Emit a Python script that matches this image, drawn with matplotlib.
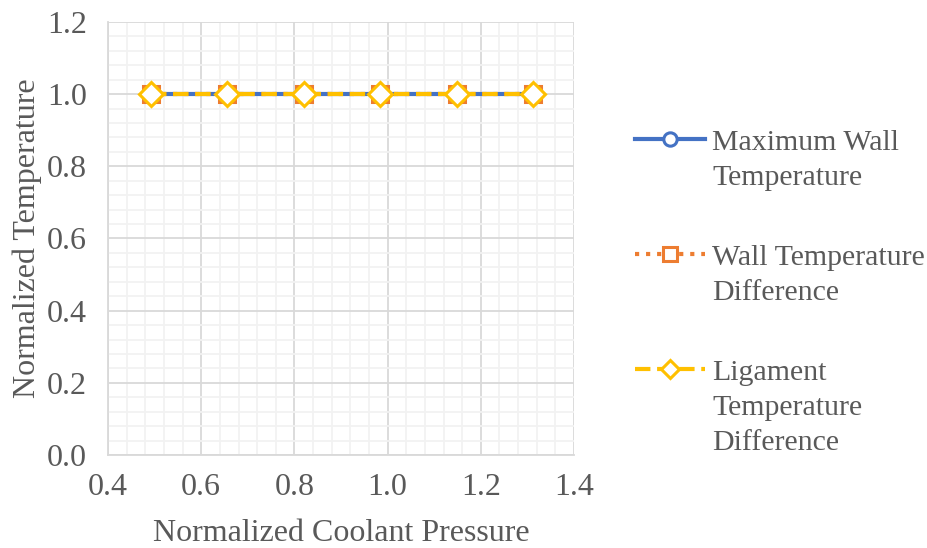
import numpy as np
import matplotlib.pyplot as plt
from matplotlib.lines import Line2D
from matplotlib.ticker import MultipleLocator

# data
pressure = [0.492, 0.656, 0.820, 0.984, 1.148, 1.312]
max_wall_temp = [1.0, 1.0, 1.0, 1.0, 1.0, 1.0]
wall_temp_diff = [1.0, 1.0, 1.0, 1.0, 1.0, 1.0]
lig_temp_diff = [1.0, 1.0, 1.0, 1.0, 1.0, 1.0]

plt.rcParams['font.family'] = ['Liberation Serif', 'DejaVu Serif']
txt = '#595959'
fs = 23
lfs = 21.5

fig = plt.figure(figsize=(9.28, 5.48), dpi=100)
ax = fig.add_axes([0.1164, 0.1697, 0.5022, 0.7902])

h1, = ax.plot(pressure, max_wall_temp, '-', color='#4472C4', lw=3,
              marker='o', ms=12, mfc='white', mec='#4472C4', mew=2.2, zorder=3)
h2, = ax.plot(pressure, wall_temp_diff, ':', color='#ED7D31', lw=3,
              marker='s', ms=12, mfc='white', mec='#ED7D31', mew=2.2, zorder=4)
h3, = ax.plot(pressure, lig_temp_diff, '--', color='#FFC000', lw=3,
              marker='D', ms=12, mfc='white', mec='#FFC000', mew=2.2, zorder=5)

ax.set_xlim(0.4, 1.4)
ax.set_ylim(0.0, 1.2)
ax.xaxis.set_minor_locator(MultipleLocator(0.04))
ax.yaxis.set_minor_locator(MultipleLocator(0.04))
xt = np.arange(0.4, 1.41, 0.2)
yt = np.arange(0.0, 1.21, 0.2)
ax.set_xticks(xt)
ax.set_xticklabels([f'{v:.1f}' for v in xt])
ax.set_yticks(yt)
ax.set_yticklabels([f'{v:.1f}' for v in yt])
ax.grid(which='minor', color='#f2f2f2', lw=1.3, zorder=0)
ax.grid(which='major', color='#d9d9d9', lw=1.3, zorder=1)
ax.set_axisbelow(True)
for s in ['top', 'right']:
    ax.spines[s].set_visible(False)
for s in ['left', 'bottom']:
    ax.spines[s].set_color('#d9d9d9')
    ax.spines[s].set_linewidth(1.3)
ax.tick_params(which='both', length=0, labelsize=fs, labelcolor=txt)
ax.tick_params(axis='y', pad=15)
ax.tick_params(axis='x', pad=13)

ax.set_xlabel('Normalized Coolant Pressure', fontsize=fs, color=txt, labelpad=12)
ax.set_ylabel('Normalized Temperature', fontsize=fs, color=txt, labelpad=4)

blank = Line2D([], [], color='none')
handles = [h1, blank, blank, h2, blank, blank, h3, blank, blank]
labels = ['Maximum Wall', 'Temperature', ' ',
          'Wall Temperature', 'Difference', ' ',
          'Ligament', 'Temperature', 'Difference']
leg = fig.legend(handles, labels, loc='upper left', bbox_to_anchor=(0.684, 0.765),
                 frameon=False, fontsize=lfs, labelcolor=txt, handlelength=2.35,
                 handletextpad=0.24, labelspacing=0.27, borderpad=0, borderaxespad=0,
                 markerscale=0.8)
# gap rows between entries
for i in (2, 5):
    leg.get_texts()[i].set_fontsize(28.5)

fig.savefig('out.png', dpi=100)
